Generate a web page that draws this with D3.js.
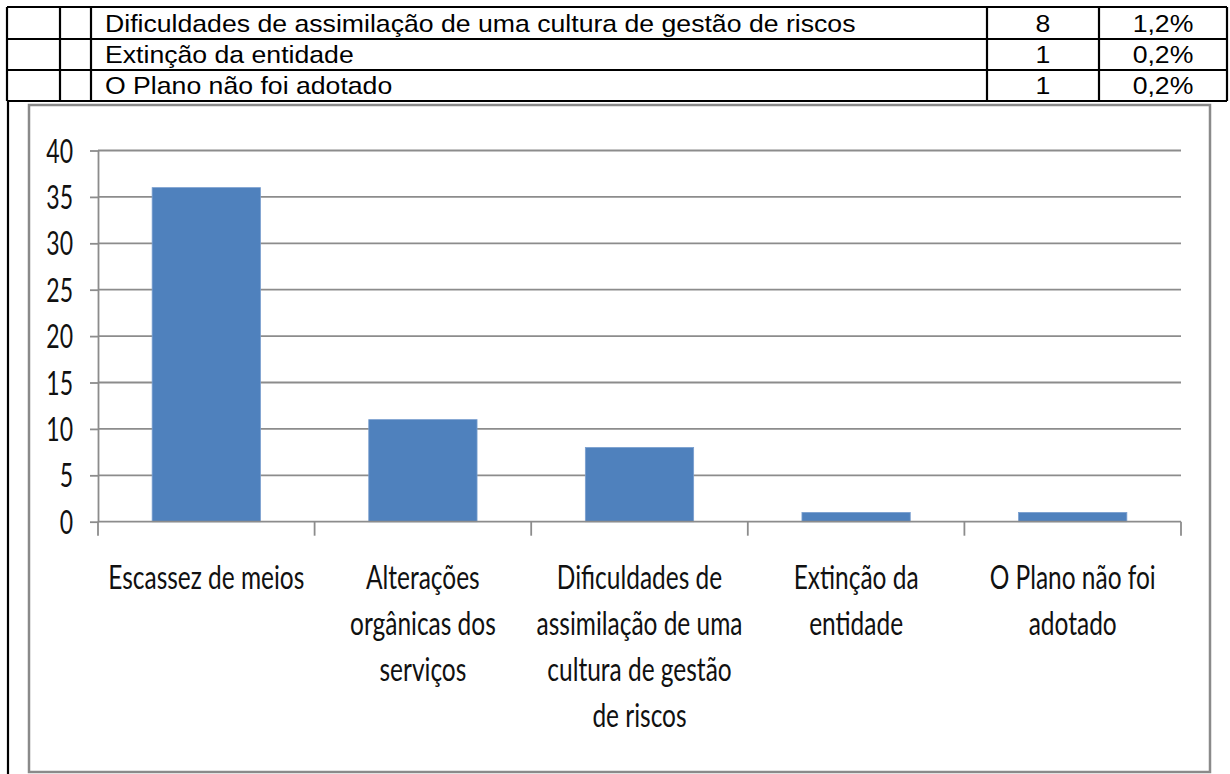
<!DOCTYPE html>
<html>
<head>
<meta charset="utf-8">
<script src="https://cdn.jsdelivr.net/npm/d3@7"></script>
<style>
  body { margin: 0; background: #fff; }
</style>
</head>
<body>
<svg id="page" width="1230" height="774"></svg>
<script>
// table rows above the chart
const tableLabels = [
  "Dificuldades de assimilação de uma cultura de gestão de riscos",
  "Extinção da entidade",
  "O Plano não foi adotado"
]
const tableCounts = ["8", "1", "1"]
const tablePercents = ["1,2%", "0,2%", "0,2%"]

// chart data
const categories = [
  "Escassez de meios",
  "Alterações orgânicas dos serviços",
  "Dificuldades de assimilação de uma cultura de gestão de riscos",
  "Extinção da entidade",
  "O Plano não foi adotado"
]
const categoryLines = [
  ["Escassez de meios"],
  ["Alterações", "orgânicas dos", "serviços"],
  ["Dificuldades de", "assimilação de uma", "cultura de gestão", "de riscos"],
  ["Extinção da", "entidade"],
  ["O Plano não foi", "adotado"]
]
const values = [36, 11, 8, 1, 1]
const yTicks = [0, 5, 10, 15, 20, 25, 30, 35, 40]

const svg = d3.select("#page")

// ---- table ----
const colX = [7, 60, 91, 987, 1099, 1227]
const rowY = [7, 39, 70, 101]
const tableFont = "'Liberation Sans', Arial, sans-serif"
const tableScale = 1.11

const table = svg.append("g")
table.selectAll("line.h").data(rowY).join("line")
  .attr("x1", colX[0]).attr("x2", colX[colX.length - 1])
  .attr("y1", d => d).attr("y2", d => d)
  .attr("stroke", "#000").attr("stroke-width", 2.2)
table.selectAll("line.v").data(colX).join("line")
  .attr("x1", d => d).attr("x2", d => d)
  .attr("y1", rowY[0]).attr("y2", rowY[rowY.length - 1])
  .attr("stroke", "#000").attr("stroke-width", 2.2)
// left border of the cell holding the chart
svg.append("line")
  .attr("x1", 8).attr("x2", 8).attr("y1", 101).attr("y2", 774)
  .attr("stroke", "#000").attr("stroke-width", 2.2)

const rows = table.selectAll("g.row").data(tableLabels).join("g")
  .attr("transform", (d, i) => `translate(0,${rowY[i + 1] - 7})`)
rows.append("text")
  .attr("transform", `translate(105,0) scale(${tableScale},1)`)
  .style("font-family", tableFont).style("font-size", "24px")
  .text(d => d)
rows.append("text")
  .attr("transform", `translate(${(colX[3] + colX[4]) / 2},0) scale(${tableScale},1)`)
  .attr("text-anchor", "middle")
  .style("font-family", tableFont).style("font-size", "24px")
  .text((d, i) => tableCounts[i])
rows.append("text")
  .attr("transform", `translate(${(colX[4] + colX[5]) / 2},0) scale(${tableScale},1)`)
  .attr("text-anchor", "middle")
  .style("font-family", tableFont).style("font-size", "24px")
  .text((d, i) => tablePercents[i])

// ---- chart ----
svg.append("rect")
  .attr("x", 29).attr("y", 105).attr("width", 1181).attr("height", 667)
  .attr("fill", "#fff").attr("stroke", "#8a8a8a").attr("stroke-width", 2.5)

const plotLeft = 98, plotRight = 1181, plotTop = 150.5, plotBottom = 521.7
const chartFont = "Lato, 'Open Sans', sans-serif"
const sx = 0.72     // squeeze for the value labels
const sxCat = 0.765 // squeeze for the category labels
const gridColor = "#8c8c8c"

const x = d3.scaleBand().domain(categories).range([plotLeft, plotRight])
  .paddingInner(0.5).paddingOuter(0.25)
const y = d3.scaleLinear().domain([0, 40]).range([plotBottom, plotTop])

// gridlines
svg.append("g").selectAll("line").data(yTicks.filter(d => d > 0)).join("line")
  .attr("x1", plotLeft).attr("x2", plotRight)
  .attr("y1", d => y(d)).attr("y2", d => y(d))
  .attr("stroke", gridColor).attr("stroke-width", 1.8)

// bars
svg.append("g").selectAll("rect").data(values).join("rect")
  .attr("x", (d, i) => x(categories[i]))
  .attr("y", d => y(d))
  .attr("width", x.bandwidth())
  .attr("height", d => y(0) - y(d))
  .attr("fill", "#4f81bd")
  .attr("stroke", "#7a9fcf").attr("stroke-width", 0.8)

// y axis
const gY = svg.append("g").attr("transform", `translate(${plotLeft},0)`)
  .call(d3.axisLeft(y).tickValues(yTicks).tickSize(8).tickSizeOuter(0))
gY.select(".domain").attr("stroke", gridColor).attr("stroke-width", 1.8)
gY.selectAll(".tick line").attr("stroke", gridColor).attr("stroke-width", 1.8)
gY.selectAll(".tick text")
  .attr("x", -25 / sx).attr("dy", "0.36em")
  .attr("transform", `scale(${sx},1)`)
  .attr("fill", "#111")
  .style("font-family", chartFont).style("font-size", "32px")

// x axis
const gX = svg.append("g").attr("transform", `translate(0,${plotBottom})`)
  .call(d3.axisBottom(x).tickSize(0).tickSizeOuter(0).tickFormat(""))
gX.select(".domain").attr("stroke", gridColor).attr("stroke-width", 1.8)
  .attr("d", `M${plotLeft},0H${plotRight}`)

const bounds = categories.map(d => x(d) - (x.step() - x.bandwidth()) / 2).concat([plotRight])
gX.append("g").selectAll("line").data(bounds).join("line")
  .attr("x1", d => d).attr("x2", d => d)
  .attr("y1", 0).attr("y2", 14)
  .attr("stroke", gridColor).attr("stroke-width", 1.8)

gX.selectAll(".tick text").each(function (d, i) {
  const t = d3.select(this)
    .attr("y", 67).attr("dy", null)
    .attr("transform", `scale(${sxCat},1)`)
    .attr("fill", "#111")
    .style("font-family", chartFont).style("font-size", "32px")
  t.selectAll("tspan").data(categoryLines[i]).join("tspan")
    .attr("x", 0)
    .attr("dy", (l, j) => j === 0 ? 0 : 46)
    .text(l => l)
})
</script>
</body>
</html>
